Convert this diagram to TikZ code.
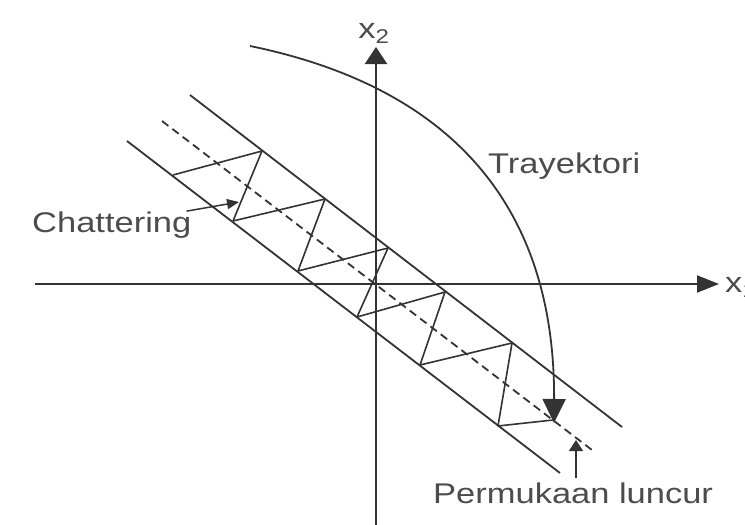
\documentclass[tikz,border=0pt]{standalone}
\usepackage{fontspec}
\setmainfont{Liberation Sans}
\usetikzlibrary{arrows.meta}

\newcommand{\stretchtxt}[1]{\scalebox{1.21}[1]{#1}}

\begin{document}
\begin{tikzpicture}[x=1pt, y=-1pt,
  axis/.style={line width=2.1pt, draw=black!80},
  bandline/.style={line width=1.8pt, draw=black!80, line join=round},
  lbl/.style={text=black!70, inner sep=0pt, font={\fontsize{28.5}{30}\selectfont}}]

\useasboundingbox (0,0) rectangle (745,525);

% axes
\coordinate (xl) at (35,284);
\coordinate (xr) at (719,284);
\coordinate (yb) at (376,525);
\coordinate (yt) at (376,47);
\draw [axis, -{Triangle[length=22pt,width=17pt]}] (xl) -- (xr);
\draw [axis, -{Triangle[length=17pt,width=22pt]}] (yb) -- (yt);

\node [lbl, anchor=base west] (x1) at (725, 292) {\stretchtxt{x\textsubscript{1}}};
\node [lbl, anchor=base] (x2) at (374, 38) {\stretchtxt{x\textsubscript{2}}};

% band round the sliding surface
\coordinate (up-s) at (190,95);
\coordinate (up-e) at (622,427);
\coordinate (mid-s) at (162,121);
\coordinate (mid-e) at (592,450);
\coordinate (low-s) at (127,141);
\coordinate (low-e) at (560,473);

\draw [bandline] (up-s) -- (up-e);
\draw [bandline] (low-s) -- (low-e);
\draw [bandline, dash pattern=on 8pt off 5pt] (mid-s) -- (mid-e);

% chattering zigzag
\draw [bandline, line width=1.6pt] (173,175) -- (262,151) -- (233,221) -- (325,199)
      -- (298,271) -- (388,248) -- (357,317) -- (445,292) -- (420,365)
      -- (512,343) -- (498,426) -- (553,420);

% trajectory
\coordinate (tr-s) at (250,46);
\coordinate (tr-e) at (554,423);
\draw [bandline, -{Triangle[length=24pt,width=23pt]}] (tr-s)
      .. controls (445,86) and (555,200) .. (tr-e);

\node [lbl, anchor=base west] (traj) at (488, 173) {\stretchtxt{Trayektori}};

\node [lbl, anchor=base west] (chat) at (32, 232) {\stretchtxt{Chattering}};
\coordinate (chat-tip) at (239,202);
\draw [bandline, line width=1.5pt, -{Triangle[length=12pt,width=10pt]}]
      ([xshift=-5pt]chat.north east) -- (chat-tip);

\node [lbl, anchor=base west] (perm) at (433, 503) {\stretchtxt{Permukaan luncur}};
\coordinate (perm-tip) at (576,440);
\draw [bandline, line width=1.5pt, -{Triangle[length=11pt,width=14pt]}]
      ([yshift=4pt]perm.north -| perm-tip) -- (perm-tip);

\end{tikzpicture}
\end{document}
